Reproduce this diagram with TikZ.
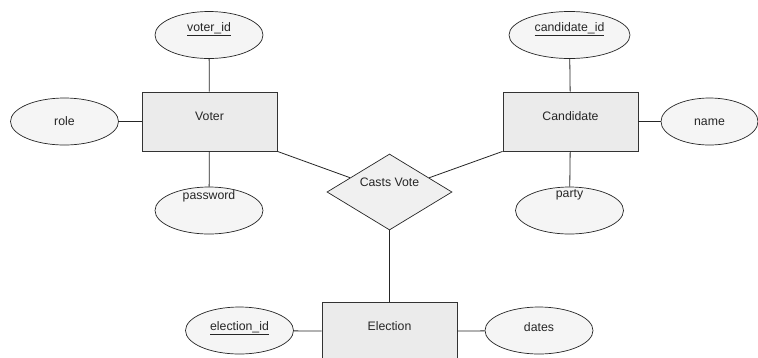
\documentclass[tikz,border=0pt]{standalone}
\usepackage{fontspec}
\setmainfont{Liberation Sans}
\usetikzlibrary{shapes.geometric}
\definecolor{entfill}{HTML}{EBEBEB}
\definecolor{attfill}{HTML}{F5F5F5}
\definecolor{relfill}{HTML}{F0F0F0}
\newcommand{\lbl}[2]{\smash{\raisebox{#1}{#2}}}
\begin{document}
\begin{tikzpicture}[x=1pt,y=-1pt,
  every node/.style={font=\fontsize{12.3}{14}\selectfont, inner sep=0pt, text=black!85},
  entity/.style={draw=black!80, line width=0.8pt, fill=entfill, rectangle, minimum width=135pt, minimum height=59pt},
  attr/.style={draw=black!85, line width=0.7pt, fill=attfill, ellipse, minimum width=108pt, minimum height=47pt},
  rel/.style={draw=black!85, line width=0.7pt, fill=relfill, diamond, minimum width=125pt, minimum height=76pt},
  conn/.style={draw=black!85, line width=0.8pt}]
\clip (0,0) rectangle (758,357);
\fill[white] (0,0) rectangle (758,357);
% entities
\node[entity] (voter) at (209.5,121.5) {\lbl{1.5pt}{Voter}};
\node[entity] (cand) at (570.5,121.5) {\lbl{1.5pt}{Candidate}};
\node[entity] (elec) at (389.5,331.5) {\lbl{1.5pt}{Election}};
% relationship
\node[rel] (vote) at (389.5,192) {\lbl{6pt}{Casts Vote}};
% attributes
\node[attr] (vid) at (209,35) {\lbl{4pt}{\underline{voter\_id}}};
\node[attr] (role) at (64.5,121.5) {\lbl{-3.5pt}{role}};
\node[attr] (pwd) at (209,210.5) {\lbl{11pt}{password}};
\node[attr, minimum width=121pt] (cid) at (569.5,35) {\lbl{4pt}{\underline{candidate\_id}}};
\node[attr, minimum width=97pt] (name) at (709.5,121.5) {\lbl{-3.5pt}{name}};
\node[attr] (party) at (569.5,210.5) {\lbl{13pt}{party}};
\node[attr] (eid) at (239.5,330.5) {\lbl{0.5pt}{\underline{election\_id}}};
\node[attr] (dates) at (539,330.5) {\lbl{-0.5pt}{dates}};
% connectors
\draw[conn] (vid) -- (voter);
\draw[conn] (role) -- (voter);
\draw[conn] (voter) -- (pwd);
\draw[conn] (cid) -- (cand);
\draw[conn] (cand) -- (name);
\draw[conn] (cand) -- (party);
\draw[conn] (voter.south east) -- (vote);
\draw[conn] (cand.south west) -- (vote);
\draw[conn] (vote) -- (elec);
\draw[conn] (eid) -- (elec);
\draw[conn] (elec) -- (dates);
\end{tikzpicture}
\end{document}
